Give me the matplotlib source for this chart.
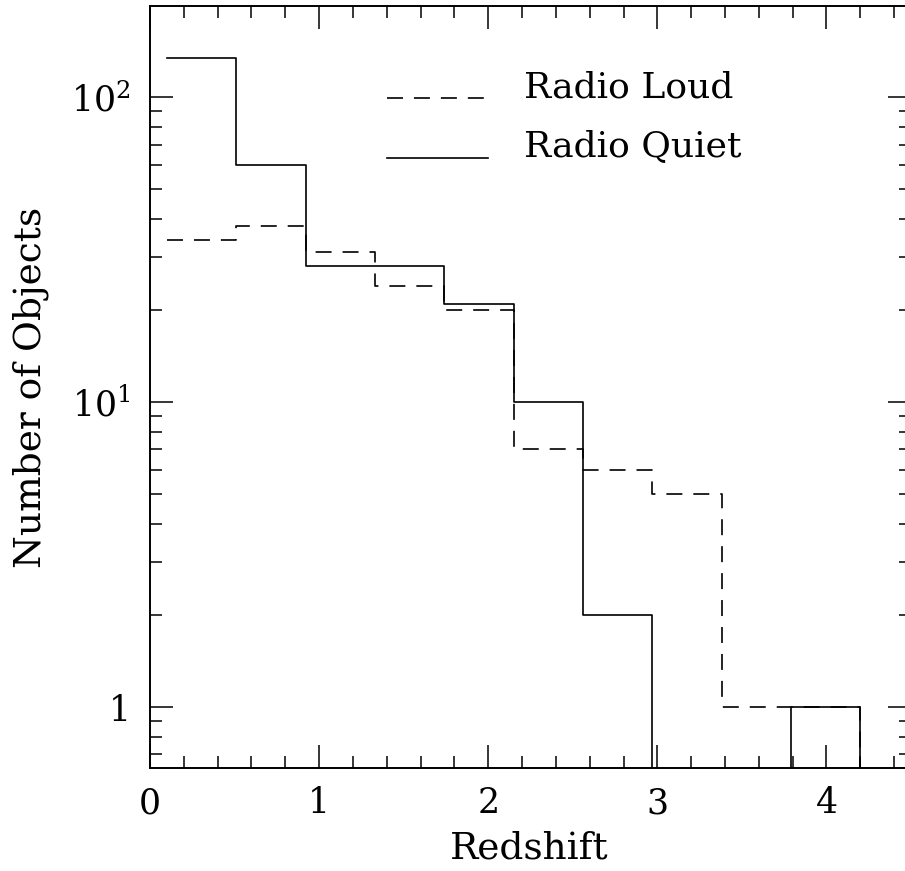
import numpy as np
import matplotlib
matplotlib.use("Agg")
import matplotlib.pyplot as plt
from matplotlib.ticker import FixedLocator, FixedFormatter, MultipleLocator, LogLocator, NullFormatter

# Redshift histogram of radio-loud and radio-quiet objects
bin_edges = [0.10, 0.51, 0.92, 1.33, 1.74, 2.15, 2.56, 2.97, 3.38, 3.79, 4.20]
radio_quiet = [135, 60, 28, 28, 21, 10, 2, 0, 0, 1]
radio_loud = [34, 38, 31, 24, 20, 7, 6, 5, 1, 1]

series_names = ["Radio Loud", "Radio Quiet"]
x_ticks = [0, 1, 2, 3, 4]
x_tick_labels = ["0", "1", "2", "3", "4"]
y_ticks = [1, 10, 100]
y_tick_labels = ["1", r"$10^{1}$", r"$10^{2}$"]

plt.rcParams["font.family"] = ["DejaVu Serif"]
plt.rcParams["mathtext.fontset"] = "dejavuserif"
plt.rcParams["lines.scale_dashes"] = False

W, H = 905, 871
fig = plt.figure(figsize=(W / 100, H / 100), dpi=100)
ax = fig.add_axes([150 / W, 103 / H, 761 / W, 762 / H])

ax.set_yscale("log", nonpositive="clip")
ax.set_xlim(0, 4.5)
ax.set_ylim(10 ** -0.2, 10 ** 2.3)

dash = (0, (11.5, 7.9))
lw = 1.2

# step outlines, dropping to the floor after the last bin
ax.step(bin_edges, np.append(radio_loud, 0), where="post",
        color="black", lw=lw, linestyle=dash)
ax.step(bin_edges, np.append(radio_quiet, 0), where="post",
        color="black", lw=lw, linestyle="-")

# legend keys drawn by hand
def ax_x(px):
    return (px - 150) / 761

def ax_y(py):
    return (768 - py) / 762

ax.plot([ax_x(387), ax_x(488)], [ax_y(98), ax_y(98)], transform=ax.transAxes,
        color="black", lw=lw, linestyle=dash, clip_on=False)
ax.plot([ax_x(387), ax_x(488)], [ax_y(158), ax_y(158)], transform=ax.transAxes,
        color="black", lw=lw, linestyle="-", clip_on=False)
ax.text(ax_x(524), ax_y(97), series_names[0], transform=ax.transAxes,
        fontsize=26, va="baseline", ha="left")
ax.text(ax_x(524), ax_y(157), series_names[1], transform=ax.transAxes,
        fontsize=26, va="baseline", ha="left")

# axes, ticks and labels
for s in ax.spines.values():
    s.set_linewidth(1.4)

ax.xaxis.set_major_locator(FixedLocator(x_ticks))
ax.xaxis.set_major_formatter(FixedFormatter(x_tick_labels))
ax.xaxis.set_minor_locator(MultipleLocator(0.2))
ax.yaxis.set_major_locator(FixedLocator(y_ticks))
ax.yaxis.set_major_formatter(FixedFormatter(y_tick_labels))
ax.yaxis.set_minor_locator(LogLocator(base=10, subs=np.arange(2, 10)))
ax.yaxis.set_minor_formatter(NullFormatter())

ax.tick_params(which="both", direction="in", top=True, right=True, width=1.1)
ax.tick_params(which="major", length=16.5, labelsize=25)
ax.tick_params(axis="x", which="major", pad=13)
ax.tick_params(axis="y", which="major", pad=14)
ax.tick_params(which="minor", length=8.6)

ax.set_xlabel("Redshift", fontsize=27)
ax.xaxis.label.set_va("baseline")
ax.xaxis.set_label_coords(ax_x(529), ax_y(858))

ax.set_ylabel("Number of Objects", fontsize=27)
ax.yaxis.label.set_va("baseline")
ax.yaxis.label.set_ha("center")
ax.yaxis.set_label_coords(ax_x(41), ax_y(387))

fig.savefig("out.png", dpi=100)
